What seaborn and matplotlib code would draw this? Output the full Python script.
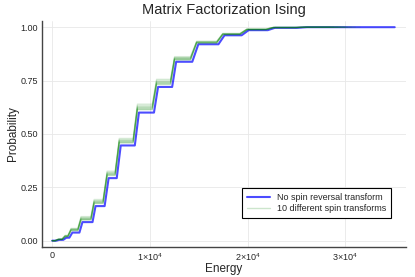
import numpy as np
import pandas as pd
import matplotlib
matplotlib.use("Agg")
import matplotlib.pyplot as plt
import seaborn as sns

# step rises of the cumulative curve: start / end energy of each rise
rise_start = [410, 1130, 1750, 2780, 4120, 5360, 6600, 8450, 10410, 12270,
              14330, 17010, 19380, 22060, 25050]
rise_end = [720, 1440, 2060, 3090, 4430, 5770, 7010, 8870, 10830, 12680,
            14950, 17630, 20100, 22790, 26080]
# probability reached after each rise
base_levels = [0.004, 0.014, 0.038, 0.087, 0.162, 0.293, 0.446, 0.600, 0.720,
               0.838, 0.920, 0.962, 0.986, 0.997, 1.000]
base_max_energy = 35050

# 10 spin reversal transforms
spin_rise_start = [300, 1000, 1600, 2620, 3960, 5200, 6440, 8280, 10240, 12100,
                   14150, 16830, 19200, 21880, 24870]
spin_rise_end = [620, 1320, 1930, 2950, 4290, 5620, 6860, 8720, 10680, 12520,
                 14780, 17460, 19930, 22620, 25900]
spin_levels = [
    [0.006, 0.020, 0.049, 0.099, 0.176, 0.308, 0.460, 0.616, 0.735, 0.849, 0.927, 0.966, 0.989, 0.998, 1.0],
    [0.007, 0.023, 0.054, 0.107, 0.186, 0.318, 0.471, 0.630, 0.747, 0.857, 0.931, 0.969, 0.990, 0.999, 1.0],
    [0.005, 0.019, 0.047, 0.097, 0.174, 0.305, 0.458, 0.613, 0.731, 0.846, 0.925, 0.965, 0.988, 0.998, 1.0],
    [0.008, 0.025, 0.058, 0.113, 0.193, 0.326, 0.479, 0.640, 0.756, 0.862, 0.934, 0.971, 0.991, 0.999, 1.0],
    [0.006, 0.021, 0.051, 0.102, 0.180, 0.312, 0.465, 0.622, 0.740, 0.852, 0.929, 0.967, 0.989, 0.998, 1.0],
    [0.007, 0.022, 0.053, 0.105, 0.184, 0.317, 0.469, 0.627, 0.744, 0.855, 0.930, 0.968, 0.990, 0.999, 1.0],
    [0.006, 0.020, 0.050, 0.100, 0.178, 0.310, 0.463, 0.619, 0.737, 0.850, 0.928, 0.967, 0.989, 0.998, 1.0],
    [0.007, 0.024, 0.056, 0.110, 0.189, 0.322, 0.475, 0.635, 0.752, 0.859, 0.933, 0.970, 0.991, 0.999, 1.0],
    [0.005, 0.019, 0.048, 0.098, 0.175, 0.307, 0.459, 0.615, 0.733, 0.847, 0.926, 0.966, 0.988, 0.998, 1.0],
    [0.006, 0.021, 0.052, 0.103, 0.182, 0.314, 0.467, 0.624, 0.742, 0.853, 0.929, 0.968, 0.990, 0.998, 1.0],
]
spin_max_energy = [29500, 30200, 28800, 31000, 29900, 30600, 28400, 31500, 30000, 29200]

x_ticks = [0, 10000, 20000, 30000]
x_tick_labels = ["0", r"$1{\times}10^{4}$", r"$2{\times}10^{4}$", r"$3{\times}10^{4}$"]
y_ticks = [0.0, 0.25, 0.5, 0.75, 1.0]
y_tick_labels = ["0.00", "0.25", "0.50", "0.75", "1.00"]


def staircase(starts, ends, levels, e_max):
    xs, ys = [0], [0.0]
    prev = 0.0
    for s, e, lv in zip(starts, ends, levels):
        xs += [s, e]
        ys += [prev, lv]
        prev = lv
    xs.append(e_max)
    ys.append(prev)
    return xs, ys


bx, by = staircase(rise_start, rise_end, base_levels, base_max_energy)
df_base = pd.DataFrame({"Energy": bx, "Probability": by})

rows = []
for k, (lv, emax) in enumerate(zip(spin_levels, spin_max_energy)):
    sx, sy = staircase(spin_rise_start, spin_rise_end, lv, emax)
    for x, y in zip(sx, sy):
        rows.append({"transform": k, "Energy": x, "Probability": y})
df_spin = pd.DataFrame(rows)

sns.set_style("whitegrid")
plt.rcParams["font.family"] = ["Liberation Sans", "DejaVu Sans"]
plt.rcParams["mathtext.fontset"] = "custom"
plt.rcParams["mathtext.rm"] = "Liberation Sans"

fig = plt.figure(figsize=(4.15, 2.77), dpi=100)
ax = fig.add_axes([0.1012, 0.108, 0.877, 0.817])

sns.lineplot(data=df_base, x="Energy", y="Probability", ax=ax, color="blue",
             alpha=0.7, lw=1.5, sort=False, label="No spin reversal transform")
sns.lineplot(data=df_spin, x="Energy", y="Probability", units="transform",
             estimator=None, ax=ax, color="green", alpha=0.12, lw=1.0, sort=False)
# legend proxy for the transforms
ax.plot([], [], color="green", alpha=0.2, lw=1.0, label="10 different spin transforms")

ax.set_xlim(-1050, 36200)
ax.set_ylim(-0.03, 1.03)
ax.set_xticks(x_ticks)
ax.set_xticklabels(x_tick_labels, fontsize=6.5)
ax.set_yticks(y_ticks)
ax.set_yticklabels(y_tick_labels, fontsize=6.5)
ax.tick_params(direction="in", length=3, width=0.6, color="#333333", pad=3)
ax.grid(True, color="#e8e8e8", lw=0.6)
for side in ["top", "right"]:
    ax.spines[side].set_visible(False)
for side in ["left", "bottom"]:
    ax.spines[side].set_color("#444444")
    ax.spines[side].set_linewidth(1.0)

ax.set_xlabel("Energy", fontsize=8.5, labelpad=0)
ax.set_ylabel("Probability", fontsize=8.5, labelpad=1)
ax.set_title("Matrix Factorization Ising", fontsize=10.5, pad=5)

leg = ax.legend(loc="lower right", bbox_to_anchor=(0.97, 0.11), fontsize=6.5,
                frameon=True, fancybox=False, framealpha=1, edgecolor="black",
                handlelength=2.5, borderpad=0.5, labelspacing=0.25)
leg.get_frame().set_linewidth(0.8)

fig.savefig("out.png", dpi=100)
